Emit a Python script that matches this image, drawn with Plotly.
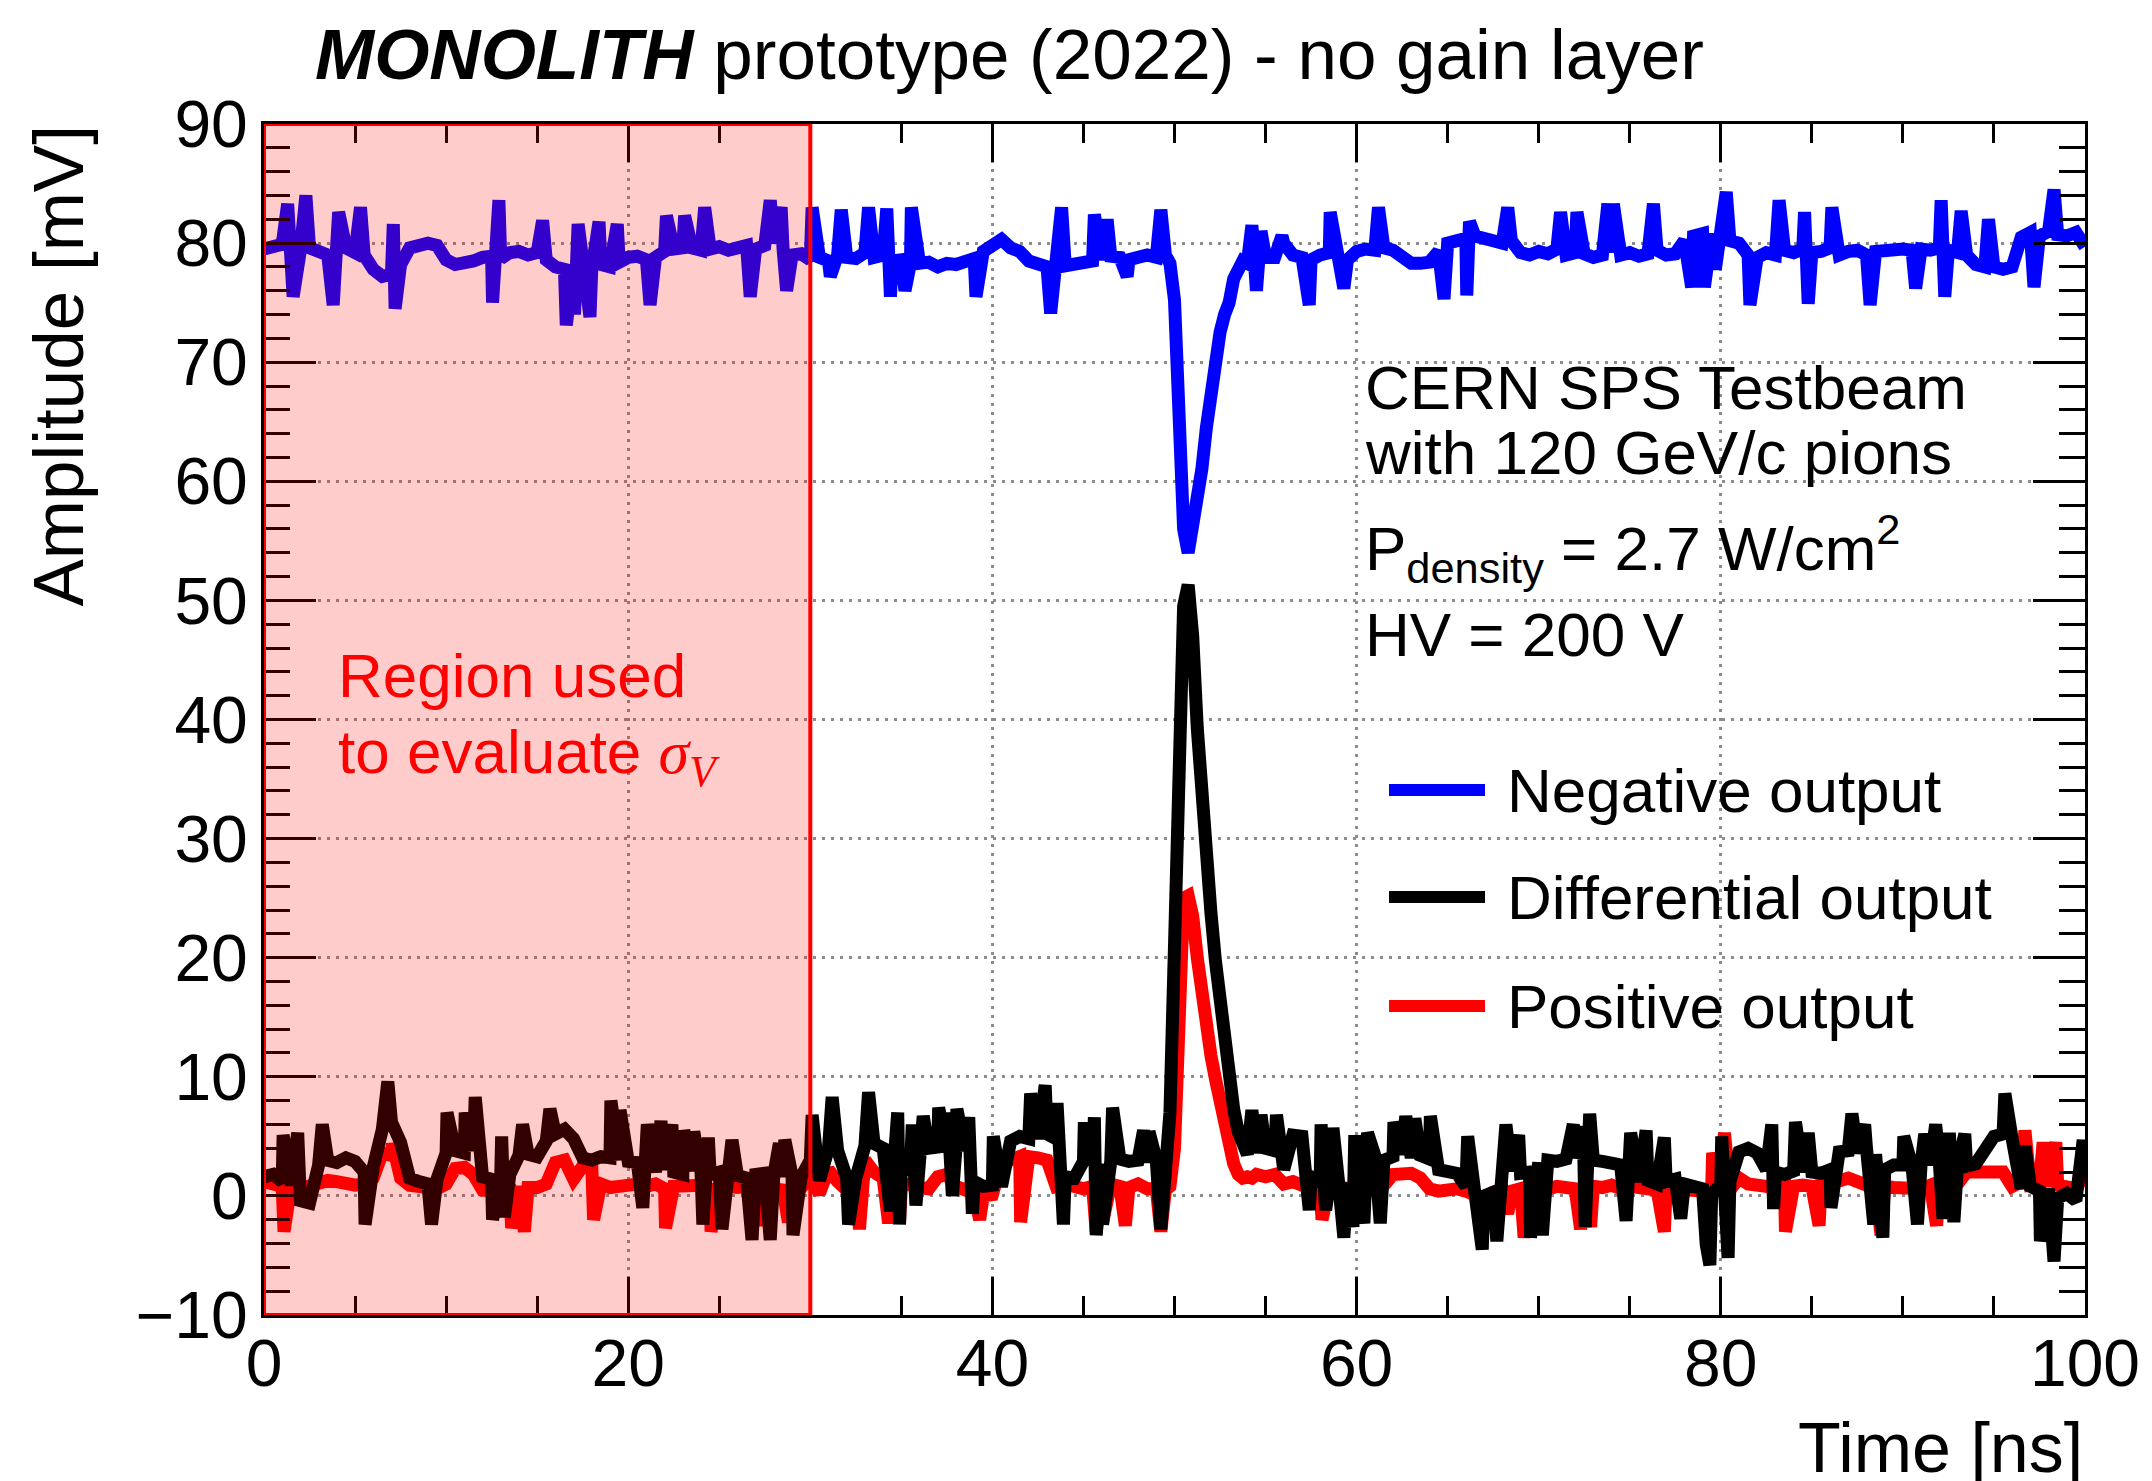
import numpy as np
import plotly.graph_objects as go

# ---------------- data ----------------
# baseline samples every 0.5 ns, 0.25 ns around the pulse, plus single-sample spikes
time_a = np.arange(0.0, 49.0, 0.5)      # 0 ... 48.5
time_b = np.arange(49.0, 55.0, 0.25)    # 49 ... 54.75
time_c = np.arange(55.0, 100.001, 0.5)  # 55 ... 100

# ---- Negative output [mV]
neg_a = [79.5, 79.7, 79.9, 79.6, 79.4, 79.6, 79.3, 79.0, 79.4, 79.6,
         79.2, 79.0, 77.8, 77.2, 77.4, 78.2, 79.6, 79.9, 80.0, 79.8,
         78.6, 78.2, 78.3, 78.5, 78.8, 78.9, 78.7, 79.2, 79.3, 79.0,
         79.2, 78.6, 78.0, 77.8, 78.0, 77.6, 77.8, 78.2, 78.0, 78.4,
         78.8, 78.9, 78.6, 78.8, 79.3, 79.5, 79.6, 79.6, 79.4, 79.5,
         79.7, 79.4, 79.6, 79.8, 79.5, 79.8, 80.0, 79.6, 79.0, 79.1,
         78.6, 78.8, 78.5, 79.0, 78.8, 78.7, 79.2, 78.8, 79.0, 78.5,
         78.6, 78.3, 78.3, 78.4, 78.0, 78.3, 78.2, 78.5, 78.7, 79.3,
         79.8, 80.3, 79.6, 79.3, 78.5, 78.3, 78.0, 78.4, 78.1, 78.2,
         78.4, 78.5, 78.6, 78.9, 78.8, 78.6, 78.8, 79.0]
neg_b = [78.8, 82.8, 79.0, 78.3, 75.2, 64.0, 56.0, 54.0, 56.0, 58.5,
         61.0, 64.5, 68.0, 71.0, 72.5, 74.0, 75.0, 77.0, 78.0, 78.5,
         78.3, 81.5, 76.0, 81.0]
neg_c = [78.8, 78.8, 80.0, 79.0, 78.8, 78.6, 79.0, 79.2, 78.8, 78.6,
         79.3, 79.5, 79.4, 79.6, 79.4, 79.0, 78.3, 78.3, 78.4, 79.3,
         80.0, 80.2, 80.4, 80.6, 80.3, 80.2, 80.0, 80.2, 79.2, 79.0,
         79.3, 79.1, 79.5, 79.0, 79.2, 79.1, 78.8, 79.0, 79.2, 79.0,
         79.2, 78.9, 79.1, 79.4, 79.0, 79.1, 80.2, 80.6, 80.8, 80.8,
         80.5, 80.2, 80.0, 79.0, 78.8, 79.2, 79.0, 79.4, 79.2, 79.5,
         79.2, 79.3, 79.6, 79.0, 79.3, 79.4, 79.0, 79.3, 79.4, 79.6,
         79.5, 79.4, 79.5, 79.4, 79.6, 79.4, 79.2, 79.0, 78.2, 78.0,
         78.0, 77.8, 78.0, 80.5, 80.9, 80.6, 81.0, 80.7, 80.6, 80.9,
         79.7]
neg_spike_t = [1.3, 1.6, 2.3, 3.8, 4.1, 5.3, 7.1, 7.2, 12.55, 12.9, 15.3, 16.6, 17.05,
               17.25, 17.9, 18.4, 19.4, 21.2, 22.1, 23.1, 24.2, 26.7, 27.8, 28.4, 28.7,
               30.1, 31.1, 31.7, 33.2, 34.2, 34.4, 35.2, 35.55, 39.1, 43.2, 43.8, 45.6,
               46.3, 47.4,
               55.9, 57.4, 58.55, 59.3, 61.2, 64.8, 66.05, 66.2, 68.3, 71.2, 72.1, 73.8,
               74.1, 76.3, 78.4, 79.1, 79.7, 80.3, 81.6, 83.2, 84.6, 84.8, 86.1, 88.2,
               90.7, 92.1, 92.3, 93.2, 94.7, 97.2, 98.3]
neg_spike_v = [83.3, 75.5, 84.0, 74.8, 82.6, 83.0, 81.6, 74.5, 75.0, 83.6, 81.9, 73.1, 74.0,
               81.6, 73.8, 81.8, 81.6, 74.8, 82.3, 82.3, 83.0, 75.5, 83.6, 83.0, 76.0,
               83.0, 77.2, 82.8, 83.0, 82.9, 75.5, 76.0, 83.0, 75.5, 74.1, 83.0, 82.4,
               82.0, 77.2,
               80.6, 74.8, 82.6, 76.2, 83.0, 75.3, 75.6, 81.8, 83.0, 82.6, 82.6, 83.3,
               83.3, 83.3, 76.3, 76.3, 77.8, 84.3, 74.8, 83.6, 82.6, 74.9, 83.0, 74.8,
               76.2, 83.6, 75.5, 82.7, 82.0, 76.3, 84.5]

# ---- Differential output [mV]
diff_a = [1.6, 1.8, 1.2, 0.9, -0.4, -0.6, 2.6, 3.0, 2.8, 3.2,
          2.9, 2.0, 2.4, 5.6, 6.2, 4.5, 1.5, 1.2, 1.0, 1.4,
          3.6, 3.8, 3.6, 3.8, 1.6, 1.4, 1.5, 1.8, 3.4, 3.5,
          3.3, 4.6, 5.2, 5.6, 4.8, 3.2, 3.0, 3.3, 3.2, 3.0,
          2.9, 2.8, 2.6, 2.0, 2.2, 2.0, 1.8, 2.1, 2.0, 1.8,
          2.0, 1.8, 1.7, 1.5, 1.8, 1.9, 1.8, 1.6, 1.7, 1.6,
          3.0, 1.3, 4.0, 3.8, 1.5, 1.5, 4.2, 4.4, 4.0, 2.4,
          2.3, 2.2, 2.4, 4.0, 4.1, 3.8, 4.0, 3.8, 1.2, 0.8,
          0.9, 0.8, 4.6, 5.0, 4.8, 4.8, 5.2, 4.8, 1.6, 1.5,
          2.9, 3.0, 2.7, 2.9, 3.1, 2.9, 3.0, 2.8]
diff_b = [3.0, -2.8, 2.6, 7.0, 21.0, 40.0, 49.5, 51.3, 47.0, 39.3,
          32.7, 27.5, 23.8, 19.7, 16.3, 13.3, 10.5, 7.3, 5.4, 4.0,
          3.5, 7.2, 3.6, 6.8]
diff_c = [4.0, 3.8, 2.2, 5.1, 5.0, 1.6, 1.2, 1.0, 1.3, 1.1,
          1.4, 3.2, 3.4, 3.0, 3.3, 3.5, 3.2, 3.4, 3.1, 2.2,
          2.0, 1.9, 0.8, 0.2, 0.0, 0.3, 2.0, 2.1, 1.9, 2.0,
          2.8, 3.0, 2.9, 3.1, 3.2, 2.8, 3.0, 2.9, 2.7, 2.6,
          1.4, 1.2, 1.3, 1.0, 1.2, 1.4, 1.0, 0.8, 0.6, 0.2,
          0.9, 1.2, 3.7, 4.0, 3.6, 2.2, 2.0, 1.8, 2.1, 2.0,
          2.0, 1.9, 2.2, 3.7, 3.8, 3.6, 4.0, 3.5, 2.2, 2.6,
          2.6, 2.5, 2.7, 2.6, 2.8, 2.4, 2.6, 2.5, 2.7, 4.0,
          5.0, 5.2, 4.8, 0.6, 0.8, 0.4, 0.6, -0.2, 0.2, -0.4,
          1.5]
diff_spike_t = [1.05, 1.85, 3.2, 5.55, 6.8, 9.2, 10.05, 11.05, 11.6, 12.55, 13.05, 13.2,
                14.2, 15.7, 19.05, 19.55, 20.8, 21.05, 21.8, 22.4, 23.05, 23.6, 24.1,
                24.4, 25.15, 25.7, 26.8, 27.8, 28.3, 28.6, 29.05, 30.1, 31.2, 32.1,
                33.2, 34.4, 34.8, 34.9, 35.6, 35.8, 36.2, 37.05, 37.55, 37.8, 38.05,
                38.7, 38.9, 40.05, 42.1, 42.9, 43.55, 43.9, 45.05, 45.6, 45.7, 46.05,
                46.6, 48.3, 48.6,
                55.6, 57.4, 58.05, 58.3, 58.7, 59.3, 59.8, 59.9, 60.4, 60.6, 61.3, 62.05,
                62.7, 63.2, 64.05, 66.1, 66.9, 67.7, 68.2, 68.9, 69.55, 70.2, 71.9,
                72.45, 72.55, 72.8, 74.8, 75.05, 75.9, 76.9, 77.8, 79.2, 79.4, 80.05,
                80.4, 82.8, 82.9, 84.1, 84.8, 86.05, 87.2, 87.9, 88.4, 88.9, 90.05,
                90.8, 91.2, 91.8, 92.2, 92.55, 92.8, 93.4, 95.6, 96.7, 97.55, 98.3,
                99.9]
diff_spike_v = [5.1, 5.3, 6.0, -2.4, 9.6, -2.4, 7.0, 7.0, 8.3, -2.0, 5.0, -1.8,
                6.0, 7.3, 8.0, 7.2, -1.0, 6.0, 6.3, 6.0, 5.5, 5.4, -2.4,
                4.9, -2.8, 4.7, -3.7, -3.7, 4.4, 4.7, -3.3, 6.8, 8.3, -2.4,
                8.7, -1.3, 7.0, -2.4, 6.0, -0.8, 6.7, 7.4, 7.0, 0.0, 7.3,
                6.6, -1.5, 5.0, 8.6, 9.3, 7.8, -2.4, 6.2, 6.6, -3.3, -2.4,
                7.4, 5.5, 5.4,
                6.8, -1.2, 6.0, -1.2, 5.7, -3.5, -2.6, 5.1, -2.3, 5.3, -2.3, 6.2,
                6.7, 6.5, 6.7, 5.0, -4.5, -3.8, 6.0, 5.1, -3.5, -3.3, 6.0,
                5.8, -2.6, 6.9, -2.1, 5.3, 5.5, 4.9, -1.9, -4.1, -5.8, 5.0,
                -5.2, 6.0, -1.1, 6.2, 5.3, -1.0, 6.9, 6.0, -2.4, -3.5, 5.0,
                -2.4, 5.2, 6.0, -1.9, 5.3, -2.2, 5.2, 8.6, 4.2, -3.8, -5.5,
                4.7]

# ---- Positive output [mV]
pos_a = [1.2, 1.0, 0.8, 1.0, 0.6, 0.8, 1.2, 1.3, 1.2, 1.0,
         0.9, 1.0, 1.5, 3.6, 3.4, 1.5, 0.9, 0.8, 0.8, 0.6,
         1.0, 2.3, 2.4, 1.8, 0.5, 0.4, 0.9, 0.6, 0.8, 0.7,
         0.7, 1.0, 2.8, 3.0, 1.4, 2.5, 2.5, 1.0, 0.7, 0.8,
         0.9, 1.0, 0.8, 1.0, 0.6, 0.8, 0.8, 0.7, 0.9, 0.6,
         0.6, 0.8, 0.7, 0.7, 0.9, 0.5, 0.6, 0.5, 0.8, 0.7,
         1.5, 0.2, 2.2, 1.2, 0.5, 1.0, 3.0, 2.0, 1.5, 0.8,
         0.8, 1.0, 0.7, 0.6, 1.6, 1.8, 0.8, 0.5, 0.2, 0.0,
         0.1, 2.8, 3.0, 3.3, 3.3, 3.2, 3.0, 0.8, 1.0, 0.8,
         0.6, 0.8, 0.7, 1.0, 0.8, 0.7, 1.0, 0.6]
pos_b = [0.6, -3.0, 0.5, 0.8, 4.0, 16.0, 25.0, 25.2, 23.5, 20.0,
         16.5, 14.0, 11.8, 9.8, 7.9, 5.8, 4.2, 2.7, 1.8, 1.5,
         1.6, 1.5, 1.8, 1.6]
pos_c = [1.6, 1.8, 1.0, 1.2, 0.8, 0.6, 0.8, 0.7, 0.8, 0.6,
         0.7, 0.8, 0.6, 0.9, 1.8, 1.8, 1.9, 1.5, 0.6, 0.4,
         0.5, 0.6, 0.4, 0.0, -0.2, 0.3, 0.5, 0.4, 0.6, 0.5,
         0.5, 0.6, 0.8, 0.7, 0.6, 0.8, 0.8, 0.7, 0.9, 0.6,
         0.8, 0.7, 0.6, 0.5, 0.8, 0.6, 0.5, 0.3, 0.4, 0.6,
         1.0, 0.5, 1.5, 1.0, 1.0, 0.8, 0.6, 0.8, 0.8, 0.9,
         0.8, 0.9, 1.0, 1.3, 1.5, 1.2, 0.8, 0.6, 0.8, 0.7,
         0.7, 0.8, 0.6, 0.9, 0.9, 1.0, 1.0, 2.0, 2.0, 2.0,
         2.1, 2.0, 0.8, 1.2, 0.9, 1.0, 0.8, 0.9, 0.8, 0.6,
         1.8]
pos_spike_t = [1.1, 7.05, 13.6, 14.3, 18.1, 22.05, 24.55, 27.3, 28.8, 32.7, 34.3, 34.9,
               39.3, 41.55, 45.7, 46.05, 47.3,
               58.1, 68.3, 69.2, 72.3, 72.85, 76.9, 79.55, 80.2, 83.55, 85.4, 88.8,
               91.85, 92.7, 96.7, 97.7, 98.4]
pos_spike_v = [-3.0, 4.4, -2.7, -3.0, -2.0, -2.7, -3.0, -2.5, -2.2, -2.8, -2.3, -2.2,
               -2.0, -2.2, -3.0, -2.2, -2.5,
               -2.0, -1.5, -3.5, -2.8, -2.6, -3.0, 3.6, 5.3, -3.0, -2.5, -3.3,
               -2.5, 4.5, 5.5, 4.5, 4.5]

series_names = ["Negative output", "Differential output", "Positive output"]
series_colors = ["#0000ff", "#000000", "#ff0000"]
sigma_region = [0, 30]          # ns, region used to evaluate sigma_V
x_range = [0, 100]
y_range = [-10, 90]

# ---------------- assemble each waveform (baseline + spike samples, time-ordered) ----------------
grid_t = np.concatenate([time_a, time_b, time_c])
grid_set = set(np.round(grid_t, 4))


def waveform(a, b, c, st, sv):
    base = list(a) + list(b) + list(c)
    assert len(base) == len(grid_t), f"baseline length {len(base)} vs {len(grid_t)}"
    assert len(st) == len(sv), f"spike lengths {len(st)} vs {len(sv)}"
    for s in st:
        assert round(s, 4) not in grid_set, f"spike time {s} on grid"
    tt = np.concatenate([grid_t, np.asarray(st, float)])
    vv = np.concatenate([np.asarray(base, float), np.asarray(sv, float)])
    order = np.argsort(tt, kind="stable")
    return tt[order], vv[order]


t_neg, negative = waveform(neg_a, neg_b, neg_c, neg_spike_t, neg_spike_v)
t_diff, differential = waveform(diff_a, diff_b, diff_c, diff_spike_t, diff_spike_v)
t_pos, positive = waveform(pos_a, pos_b, pos_c, pos_spike_t, pos_spike_v)

FONT = "Liberation Sans"
W, H = 2152, 1481
ML, MR, MT, MB = 264, 67, 124, 166

fig = go.Figure()
LW = 13
# draw order: negative, positive, differential (black on top)
fig.add_trace(go.Scatter(x=t_neg, y=negative, mode="lines", name=series_names[0],
                         line=dict(color=series_colors[0], width=LW), showlegend=False))
fig.add_trace(go.Scatter(x=t_pos, y=positive, mode="lines", name=series_names[2],
                         line=dict(color=series_colors[2], width=LW), showlegend=False))
fig.add_trace(go.Scatter(x=t_diff, y=differential, mode="lines", name=series_names[1],
                         line=dict(color=series_colors[1], width=LW), showlegend=False))

# shaded region used to evaluate sigma_V
fig.add_shape(type="rect", xref="x", yref="y",
              x0=sigma_region[0], x1=sigma_region[1], y0=y_range[0], y1=y_range[1],
              fillcolor="rgba(255,0,0,0.2)", line=dict(color="#ff0000", width=4),
              layer="above")

axis_common = dict(
    showline=True, linecolor="black", linewidth=3, mirror="ticks",
    ticks="inside", tickcolor="black", tickwidth=2.5,
    showgrid=True, gridcolor="#8c8c8c", gridwidth=2.5, griddash="3px,6px",
    zeroline=False,
    tickfont=dict(family=FONT, size=66, color="black"),
)
fig.update_xaxes(range=x_range, dtick=20, tick0=0, ticklen=38,
                 minor=dict(dtick=5, ticklen=19, ticks="inside", tickcolor="black",
                            tickwidth=2.5, showgrid=False),
                 ticklabelstandoff=-11, **axis_common)
fig.update_yaxes(range=y_range, dtick=10, tick0=-10, ticklen=52,
                 minor=dict(dtick=2, ticklen=26, ticks="inside", tickcolor="black",
                            tickwidth=2.5, showgrid=False),
                 ticklabelstandoff=0, **axis_common)

pw, ph = W - ML - MR, H - MT - MB


def px(xp):
    return (xp - ML) / pw


def py(yp):
    return (H - MB - yp) / ph


ann = []
ann.append(dict(text="<b><i>MONOLITH</i></b> prototype (2022) - no gain layer",
                x=px(313), y=py(55), xanchor="left", yanchor="middle",
                font=dict(size=71)))
ann.append(dict(text="Time [ns]", x=1.0, y=py(1448), xanchor="right", yanchor="middle",
                font=dict(size=70)))
ann.append(dict(text="Amplitude [mV]", x=px(58), y=1.0, xanchor="center", yanchor="top",
                textangle=-90, font=dict(size=71)))
ann.append(dict(text="CERN SPS Testbeam", x=px(1363), y=py(387), xanchor="left",
                yanchor="middle", font=dict(size=62)))
ann.append(dict(text="with 120 GeV/c pions", x=px(1363), y=py(453), xanchor="left",
                yanchor="middle", font=dict(size=62)))
ann.append(dict(text="P<sub>density</sub> = 2.7 W/cm<sup>2</sup>", x=px(1363), y=py(548),
                xanchor="left", yanchor="middle", font=dict(size=62)))
ann.append(dict(text="HV = 200 V", x=px(1363), y=py(634), xanchor="left",
                yanchor="middle", font=dict(size=62)))
ann.append(dict(text="Region used", x=px(336), y=py(675), xanchor="left",
                yanchor="middle", font=dict(size=62, color="#ff0000")))
ann.append(dict(text="to evaluate <span style='font-family:Liberation Serif'><i>σ</i><sub><i>V</i></sub></span>",
                x=px(336), y=py(756), xanchor="left", yanchor="middle",
                font=dict(size=62, color="#ff0000")))

# legend (drawn manually to match the long legend lines)
legend_rows = [790, 897, 1006]
legend_order = [0, 1, 2]
for row_y, idx in zip(legend_rows, legend_order):
    fig.add_shape(type="line", xref="paper", yref="paper",
                  x0=px(1389), x1=px(1485), y0=py(row_y), y1=py(row_y),
                  line=dict(color=series_colors[idx], width=12), layer="above")
    ann.append(dict(text=series_names[idx], x=px(1505), y=py(row_y), xanchor="left",
                    yanchor="middle", font=dict(size=62)))

for a in ann:
    a.setdefault("xref", "paper")
    a.setdefault("yref", "paper")
    a["showarrow"] = False
    a["font"].setdefault("color", "black")
    a["font"]["family"] = FONT
    fig.add_annotation(**a)

fig.update_layout(
    width=W, height=H,
    margin=dict(l=ML, r=MR, t=MT, b=MB, pad=0),
    paper_bgcolor="white", plot_bgcolor="white",
    font=dict(family=FONT, color="black"),
    showlegend=False,
)

fig.write_html("out.html", config={"displayModeBar": False},
               post_script="document.body.style.margin='0px';document.body.style.overflow='hidden';")
